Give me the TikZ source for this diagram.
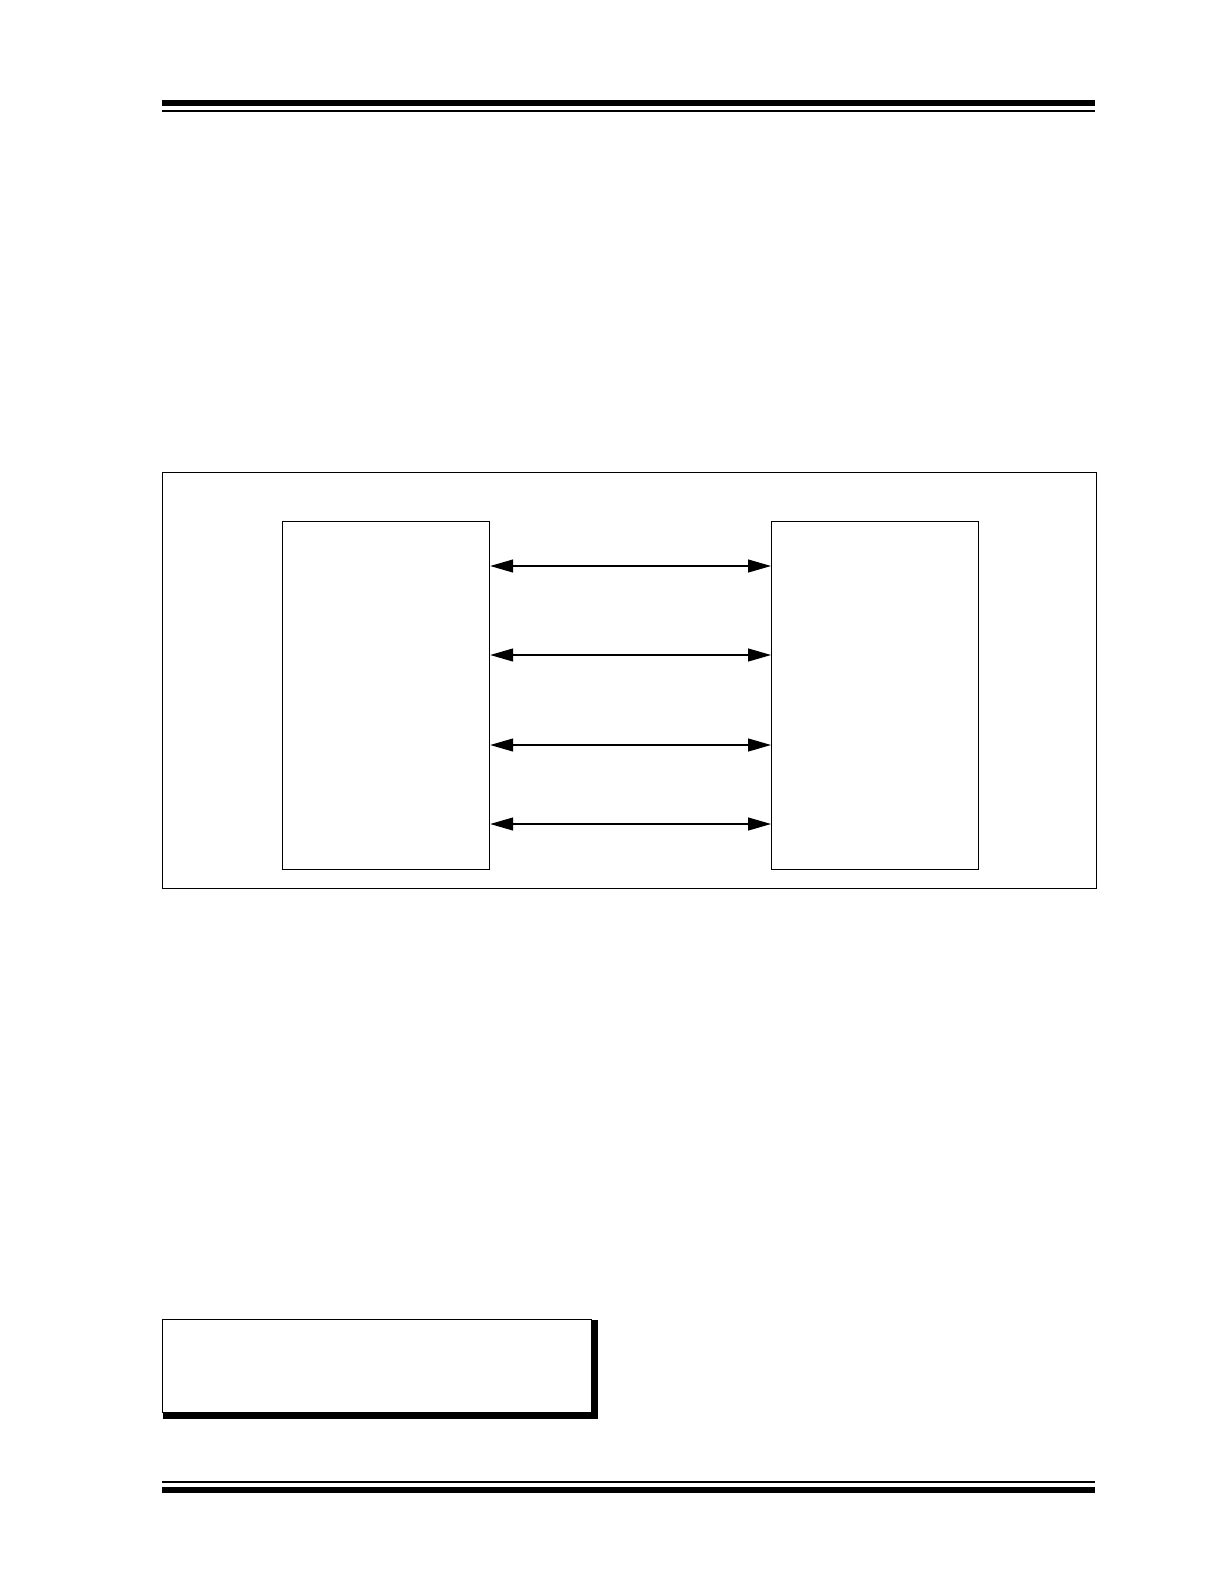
\documentclass[tikz,border=0pt]{standalone}
\usetikzlibrary{arrows.meta,positioning}

\begin{document}
\begin{tikzpicture}[x=0.5bp,y=-0.5bp,line width=0.6pt,
		>={Triangle[length=11.5bp,width=6.5bp]}]
		\tikzstyle{frame}=[draw,rectangle,inner sep=0pt,anchor=north west]
		\tikzstyle{block}=[frame,minimum width=103.5bp,minimum height=174bp]
		\tikzstyle{rule}=[fill=black]
		
		% page size
		\useasboundingbox (0,0) rectangle (1224,1584);
		
		% Header and footer rules
		\fill[rule] (162,100) rectangle (1095,106);
		\fill[rule] (162,110) rectangle (1095,112);
		\fill[rule] (162,1481) rectangle (1095,1483);
		\fill[rule] (162,1487) rectangle (1095,1493);
		
		% Outer frame of the figure
		\node[frame,minimum width=467bp,minimum height=208bp] (fig) at (162,472) {};
		
		% The two blocks
		\node[block] (host) at (282,521) {};
		\node[block] (dev) at (771,521) {};
		
		% Connect the blocks
		\foreach \i / \y in {1/566,2/655,3/745,4/824}
		{
			\coordinate (lvl-\i) at (0,\y);
			\draw[<->] (host.east |- lvl-\i) -- (dev.west |- lvl-\i);
		}
		
		% Table box with thick right and bottom edges
		\node[frame,fill=black,draw=none,minimum width=217.5bp,minimum height=49.5bp] (tblshadow) at (162,1319) {};
		\node[frame,fill=white,minimum width=214.5bp,minimum height=46.5bp] (tbl) at (162,1319) {};
	\end{tikzpicture}
\end{document}
